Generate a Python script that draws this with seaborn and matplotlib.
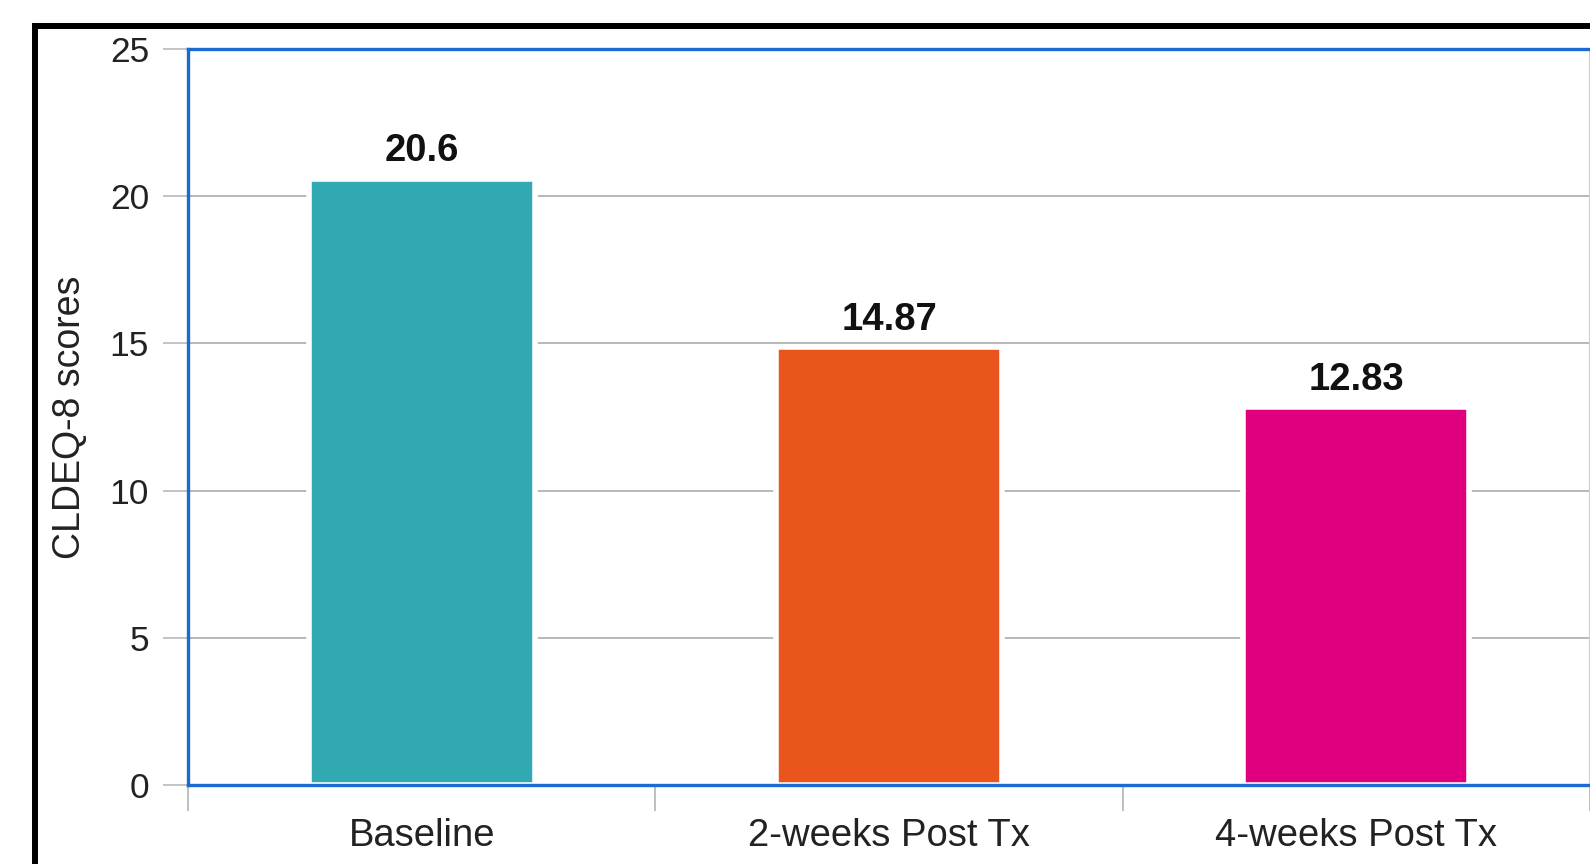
import matplotlib
matplotlib.use("Agg")
import matplotlib.pyplot as plt
import seaborn as sns
import pandas as pd
from matplotlib.patches import Rectangle

# data
timepoints = ["Baseline", "2-weeks Post Tx", "4-weeks Post Tx"]
scores = [20.6, 14.87, 12.83]
score_labels = ["20.6", "14.87", "12.83"]
bar_colors = ["#30A9B3", "#EA551E", "#E0007F"]

df = pd.DataFrame({"timepoint": timepoints, "score": scores})

sns.set_style("white")
plt.rcParams["font.family"] = ["Liberation Sans", "DejaVu Sans"]

fig = plt.figure(figsize=(15.9, 8.64), dpi=100)
ax = fig.add_axes([188 / 1590, (864 - 785) / 864, 1402 / 1590, 736 / 864])

sns.barplot(data=df, x="timepoint", y="score", hue="timepoint",
            palette=bar_colors, legend=False, width=0.484, saturation=1,
            edgecolor="white", linewidth=4, ax=ax, zorder=2)

for bar, lab in zip(ax.patches, score_labels):
    ax.annotate(lab, (bar.get_x() + bar.get_width() / 2, bar.get_height()),
                xytext=(0, 7), textcoords="offset points",
                ha="center", va="bottom", fontsize=27.5, fontweight="bold",
                color="#111111")

ax.set_ylim(0, 25)
ax.set_xlim(-0.5, 2.5)
ax.set_yticks([0, 5, 10, 15, 20, 25])
ax.yaxis.grid(True, color="#b8b8b8", linewidth=1.4)
ax.set_axisbelow(True)

# ticks at category boundaries, labels at centres
ax.set_xticks([-0.5, 0.5, 1.5, 2.5])
ax.set_xticklabels([])
ax.set_xticks([0, 1, 2], minor=True)
ax.set_xticklabels(timepoints, minor=True)
ax.tick_params(axis="x", which="major", length=19, width=1.4,
               color="#bfbfbf", direction="out", bottom=True)
ax.tick_params(axis="x", which="minor", length=0, pad=24, labelsize=27.5,
               labelcolor="#222222")
ax.tick_params(axis="y", length=18, width=1.4, color="#c4c4c4",
               direction="out", left=True, pad=10, labelsize=25.5,
               labelcolor="#222222")

ax.set_xlabel("")
ax.set_ylabel("CLDEQ-8 scores", fontsize=27, color="#222222", labelpad=16)

for side in ["top", "left", "bottom"]:
    ax.spines[side].set_color("#1A6ACF")
    ax.spines[side].set_linewidth(2.4)
ax.spines["right"].set_color("#cccccc")
ax.spines["right"].set_linewidth(1.5)

# black frame around the figure (cut off on the right and bottom)
fig.patches.append(Rectangle((34.5 / 1590, -0.2), 1.5, (864 - 26) / 864 + 0.2,
                             transform=fig.transFigure, fill=False,
                             edgecolor="black", linewidth=4.3))

fig.savefig("out.png", dpi=100)
